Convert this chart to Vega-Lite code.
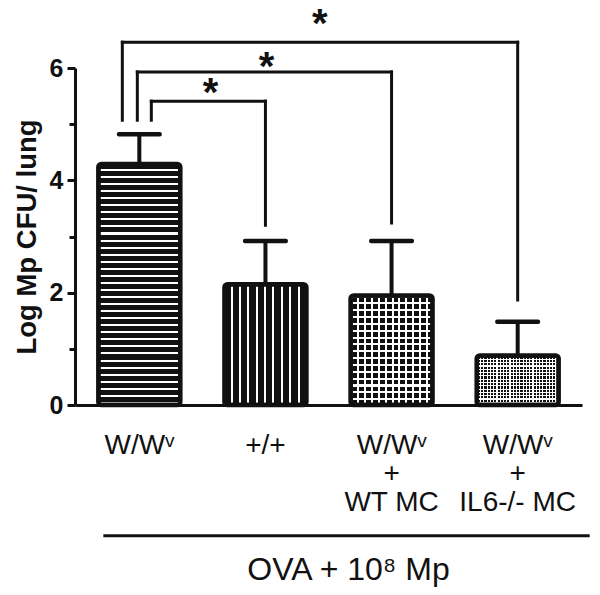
{
"$schema": "https://vega.github.io/schema/vega-lite/v6.json",
"width": 507, "height": 337,
"autosize": {"type": "none"},
"padding": {"left": 75, "top": 68, "right": 18, "bottom": 190},
"background": "white",
"config": {"view": {"stroke": null}, "font": "Liberation Sans", "axis": {"grid": false}},
"datasets": {
 "bars": [
  {"group": "W/Wᵛ", "mean": 4.29, "upper": 4.82},
  {"group": "+/+", "mean": 2.15, "upper": 2.92},
  {"group": "W/Wᵛ|+|WT MC", "mean": 1.95, "upper": 2.92},
  {"group": "W/Wᵛ|+|IL6-/- MC", "mean": 0.88, "upper": 1.48}
 ],
 "comparisons": [
  {"from": "W/Wᵛ", "to": "+/+", "left_y": 5.07, "top_y": 5.41, "right_y": 3.2, "star_y": 5.32, "label": "*"},
  {"from": "W/Wᵛ", "to": "W/Wᵛ|+|WT MC", "left_y": 5.07, "top_y": 5.93, "right_y": 3.24, "star_y": 5.79, "label": "*"},
  {"from": "W/Wᵛ", "to": "W/Wᵛ|+|IL6-/- MC", "left_y": 5.07, "top_y": 6.46, "right_y": 1.87, "star_y": 6.55, "label": "*"}
 ]
},
"layer": [
 {
  "data": {"name": "bars"},
  "transform": [{"filter": "datum.group == 'W/Wᵛ'"}],
  "mark": {"type": "bar", "cornerRadius": 3, "strokeWidth": 0, "fill": {"gradient": "linear", "x1": 0, "y1": 0, "x2": 0, "y2": 1, "stops": [
   {"offset": 0, "color": "#111111"},
   {"offset": 0.0204, "color": "#111111"}, {"offset": 0.0204, "color": "#ffffff"}, {"offset": 0.0288, "color": "#ffffff"}, {"offset": 0.0288, "color": "#111111"},
   {"offset": 0.0497, "color": "#111111"}, {"offset": 0.0497, "color": "#ffffff"}, {"offset": 0.0581, "color": "#ffffff"}, {"offset": 0.0581, "color": "#111111"},
   {"offset": 0.0790, "color": "#111111"}, {"offset": 0.0790, "color": "#ffffff"}, {"offset": 0.0874, "color": "#ffffff"}, {"offset": 0.0874, "color": "#111111"},
   {"offset": 0.1083, "color": "#111111"}, {"offset": 0.1083, "color": "#ffffff"}, {"offset": 0.1167, "color": "#ffffff"}, {"offset": 0.1167, "color": "#111111"},
   {"offset": 0.1376, "color": "#111111"}, {"offset": 0.1376, "color": "#ffffff"}, {"offset": 0.1460, "color": "#ffffff"}, {"offset": 0.1460, "color": "#111111"},
   {"offset": 0.1669, "color": "#111111"}, {"offset": 0.1669, "color": "#ffffff"}, {"offset": 0.1753, "color": "#ffffff"}, {"offset": 0.1753, "color": "#111111"},
   {"offset": 0.1961, "color": "#111111"}, {"offset": 0.1961, "color": "#ffffff"}, {"offset": 0.2045, "color": "#ffffff"}, {"offset": 0.2045, "color": "#111111"},
   {"offset": 0.2254, "color": "#111111"}, {"offset": 0.2254, "color": "#ffffff"}, {"offset": 0.2338, "color": "#ffffff"}, {"offset": 0.2338, "color": "#111111"},
   {"offset": 0.2547, "color": "#111111"}, {"offset": 0.2547, "color": "#ffffff"}, {"offset": 0.2631, "color": "#ffffff"}, {"offset": 0.2631, "color": "#111111"},
   {"offset": 0.2840, "color": "#111111"}, {"offset": 0.2840, "color": "#ffffff"}, {"offset": 0.2924, "color": "#ffffff"}, {"offset": 0.2924, "color": "#111111"},
   {"offset": 0.3133, "color": "#111111"}, {"offset": 0.3133, "color": "#ffffff"}, {"offset": 0.3217, "color": "#ffffff"}, {"offset": 0.3217, "color": "#111111"},
   {"offset": 0.3426, "color": "#111111"}, {"offset": 0.3426, "color": "#ffffff"}, {"offset": 0.3510, "color": "#ffffff"}, {"offset": 0.3510, "color": "#111111"},
   {"offset": 0.3719, "color": "#111111"}, {"offset": 0.3719, "color": "#ffffff"}, {"offset": 0.3803, "color": "#ffffff"}, {"offset": 0.3803, "color": "#111111"},
   {"offset": 0.4012, "color": "#111111"}, {"offset": 0.4012, "color": "#ffffff"}, {"offset": 0.4096, "color": "#ffffff"}, {"offset": 0.4096, "color": "#111111"},
   {"offset": 0.4305, "color": "#111111"}, {"offset": 0.4305, "color": "#ffffff"}, {"offset": 0.4389, "color": "#ffffff"}, {"offset": 0.4389, "color": "#111111"},
   {"offset": 0.4598, "color": "#111111"}, {"offset": 0.4598, "color": "#ffffff"}, {"offset": 0.4682, "color": "#ffffff"}, {"offset": 0.4682, "color": "#111111"},
   {"offset": 0.4890, "color": "#111111"}, {"offset": 0.4890, "color": "#ffffff"}, {"offset": 0.4974, "color": "#ffffff"}, {"offset": 0.4974, "color": "#111111"},
   {"offset": 0.5183, "color": "#111111"}, {"offset": 0.5183, "color": "#ffffff"}, {"offset": 0.5267, "color": "#ffffff"}, {"offset": 0.5267, "color": "#111111"},
   {"offset": 0.5476, "color": "#111111"}, {"offset": 0.5476, "color": "#ffffff"}, {"offset": 0.5560, "color": "#ffffff"}, {"offset": 0.5560, "color": "#111111"},
   {"offset": 0.5769, "color": "#111111"}, {"offset": 0.5769, "color": "#ffffff"}, {"offset": 0.5853, "color": "#ffffff"}, {"offset": 0.5853, "color": "#111111"},
   {"offset": 0.6062, "color": "#111111"}, {"offset": 0.6062, "color": "#ffffff"}, {"offset": 0.6146, "color": "#ffffff"}, {"offset": 0.6146, "color": "#111111"},
   {"offset": 0.6355, "color": "#111111"}, {"offset": 0.6355, "color": "#ffffff"}, {"offset": 0.6439, "color": "#ffffff"}, {"offset": 0.6439, "color": "#111111"},
   {"offset": 0.6648, "color": "#111111"}, {"offset": 0.6648, "color": "#ffffff"}, {"offset": 0.6732, "color": "#ffffff"}, {"offset": 0.6732, "color": "#111111"},
   {"offset": 0.6941, "color": "#111111"}, {"offset": 0.6941, "color": "#ffffff"}, {"offset": 0.7025, "color": "#ffffff"}, {"offset": 0.7025, "color": "#111111"},
   {"offset": 0.7234, "color": "#111111"}, {"offset": 0.7234, "color": "#ffffff"}, {"offset": 0.7318, "color": "#ffffff"}, {"offset": 0.7318, "color": "#111111"},
   {"offset": 0.7527, "color": "#111111"}, {"offset": 0.7527, "color": "#ffffff"}, {"offset": 0.7611, "color": "#ffffff"}, {"offset": 0.7611, "color": "#111111"},
   {"offset": 0.7819, "color": "#111111"}, {"offset": 0.7819, "color": "#ffffff"}, {"offset": 0.7903, "color": "#ffffff"}, {"offset": 0.7903, "color": "#111111"},
   {"offset": 0.8112, "color": "#111111"}, {"offset": 0.8112, "color": "#ffffff"}, {"offset": 0.8196, "color": "#ffffff"}, {"offset": 0.8196, "color": "#111111"},
   {"offset": 0.8405, "color": "#111111"}, {"offset": 0.8405, "color": "#ffffff"}, {"offset": 0.8489, "color": "#ffffff"}, {"offset": 0.8489, "color": "#111111"},
   {"offset": 0.8698, "color": "#111111"}, {"offset": 0.8698, "color": "#ffffff"}, {"offset": 0.8782, "color": "#ffffff"}, {"offset": 0.8782, "color": "#111111"},
   {"offset": 0.8991, "color": "#111111"}, {"offset": 0.8991, "color": "#ffffff"}, {"offset": 0.9075, "color": "#ffffff"}, {"offset": 0.9075, "color": "#111111"},
   {"offset": 0.9284, "color": "#111111"}, {"offset": 0.9284, "color": "#ffffff"}, {"offset": 0.9368, "color": "#ffffff"}, {"offset": 0.9368, "color": "#111111"},
   {"offset": 0.9577, "color": "#111111"}, {"offset": 0.9577, "color": "#ffffff"}, {"offset": 0.9661, "color": "#ffffff"}, {"offset": 0.9661, "color": "#111111"},
   {"offset": 0.9870, "color": "#111111"}, {"offset": 0.9870, "color": "#ffffff"}, {"offset": 0.9954, "color": "#ffffff"}, {"offset": 0.9954, "color": "#111111"},
   {"offset": 1, "color": "#111111"}
  ]}},
  "encoding": {
   "x": {"field": "group", "type": "nominal",
    "scale": {"domain": ["W/Wᵛ", "+/+", "W/Wᵛ|+|WT MC", "W/Wᵛ|+|IL6-/- MC"], "paddingInner": 0.35, "paddingOuter": 0.185},
    "axis": {"title": "OVA + 10⁸ Mp", "labelExpr": "split(datum.label, '|')", "labelAngle": 0, "labelFont": "Liberation Sans", "labelFontSize": 28, "labelColor": "#111111", "labelPadding": 26, "labelLineHeight": 28.5, "labelOverlap": false, "labelLimit": 0, "ticks": false, "tickSize": 0, "domainColor": "#111111", "domainWidth": 3, "titleFont": "Liberation Sans", "titleFontSize": 32, "titleFontWeight": "normal", "titleColor": "#111111", "titlePadding": 38, "titleX": 273}},
   "y": {"field": "mean", "type": "quantitative",
    "scale": {"domain": [0, 6], "nice": false},
    "axis": {"title": "Log Mp CFU/ lung", "values": [0, 1, 2, 3, 4, 5, 6], "format": "d", "labelExpr": "datum.value % 2 == 0 ? datum.label : ''", "domainColor": "#111111", "domainWidth": 3, "tickColor": "#111111", "tickWidth": 3, "tickSize": {"condition": {"test": "datum.value % 2 == 1", "value": 6}, "value": 8}, "labelFont": "Liberation Sans", "labelFontSize": 25, "labelFontWeight": "bold", "labelColor": "#111111", "labelPadding": 4, "titleFont": "Liberation Sans", "titleFontSize": 27.5, "titleFontWeight": "bold", "titleColor": "#111111", "titlePadding": 8}}
  }
 },
 {
  "data": {"name": "bars"},
  "transform": [{"filter": "datum.group == '+/+'"}],
  "mark": {"type": "bar", "cornerRadius": 3, "strokeWidth": 0, "fill": {"gradient": "linear", "x1": 0, "y1": 0, "x2": 1, "y2": 0, "stops": [
   {"offset": 0, "color": "#111111"},
   {"offset": 0.076, "color": "#111111"}, {"offset": 0.076, "color": "#ffffff"}, {"offset": 0.100, "color": "#ffffff"}, {"offset": 0.100, "color": "#111111"},
   {"offset": 0.178, "color": "#111111"}, {"offset": 0.178, "color": "#ffffff"}, {"offset": 0.202, "color": "#ffffff"}, {"offset": 0.202, "color": "#111111"},
   {"offset": 0.280, "color": "#111111"}, {"offset": 0.280, "color": "#ffffff"}, {"offset": 0.304, "color": "#ffffff"}, {"offset": 0.304, "color": "#111111"},
   {"offset": 0.382, "color": "#111111"}, {"offset": 0.382, "color": "#ffffff"}, {"offset": 0.406, "color": "#ffffff"}, {"offset": 0.406, "color": "#111111"},
   {"offset": 0.484, "color": "#111111"}, {"offset": 0.484, "color": "#ffffff"}, {"offset": 0.508, "color": "#ffffff"}, {"offset": 0.508, "color": "#111111"},
   {"offset": 0.586, "color": "#111111"}, {"offset": 0.586, "color": "#ffffff"}, {"offset": 0.610, "color": "#ffffff"}, {"offset": 0.610, "color": "#111111"},
   {"offset": 0.688, "color": "#111111"}, {"offset": 0.688, "color": "#ffffff"}, {"offset": 0.712, "color": "#ffffff"}, {"offset": 0.712, "color": "#111111"},
   {"offset": 0.790, "color": "#111111"}, {"offset": 0.790, "color": "#ffffff"}, {"offset": 0.814, "color": "#ffffff"}, {"offset": 0.814, "color": "#111111"},
   {"offset": 0.892, "color": "#111111"}, {"offset": 0.892, "color": "#ffffff"}, {"offset": 0.916, "color": "#ffffff"}, {"offset": 0.916, "color": "#111111"},
   {"offset": 1, "color": "#111111"}
  ]}},
  "encoding": {"x": {"field": "group", "type": "nominal"}, "y": {"field": "mean", "type": "quantitative"}}
 },
 {
  "data": {"name": "bars"},
  "transform": [{"filter": "datum.group == 'W/Wᵛ|+|WT MC'"}],
  "mark": {"type": "bar", "cornerRadius": 3, "strokeWidth": 0, "fill": {"gradient": "linear", "x1": 0, "y1": 0, "x2": 0, "y2": 1, "stops": [
   {"offset": 0, "color": "#ffffff"}, {"offset": 0.0188, "color": "#ffffff"}, {"offset": 0.0188, "color": "#111111"}, {"offset": 0.0625, "color": "#111111"},
   {"offset": 0.0625, "color": "#ffffff"}, {"offset": 0.0813, "color": "#ffffff"}, {"offset": 0.0813, "color": "#111111"}, {"offset": 0.125, "color": "#111111"},
   {"offset": 0.125, "color": "#ffffff"}, {"offset": 0.1438, "color": "#ffffff"}, {"offset": 0.1438, "color": "#111111"}, {"offset": 0.1875, "color": "#111111"},
   {"offset": 0.1875, "color": "#ffffff"}, {"offset": 0.2063, "color": "#ffffff"}, {"offset": 0.2063, "color": "#111111"}, {"offset": 0.25, "color": "#111111"},
   {"offset": 0.25, "color": "#ffffff"}, {"offset": 0.2688, "color": "#ffffff"}, {"offset": 0.2688, "color": "#111111"}, {"offset": 0.3125, "color": "#111111"},
   {"offset": 0.3125, "color": "#ffffff"}, {"offset": 0.3313, "color": "#ffffff"}, {"offset": 0.3313, "color": "#111111"}, {"offset": 0.375, "color": "#111111"},
   {"offset": 0.375, "color": "#ffffff"}, {"offset": 0.3938, "color": "#ffffff"}, {"offset": 0.3938, "color": "#111111"}, {"offset": 0.4375, "color": "#111111"},
   {"offset": 0.4375, "color": "#ffffff"}, {"offset": 0.4563, "color": "#ffffff"}, {"offset": 0.4563, "color": "#111111"}, {"offset": 0.5, "color": "#111111"},
   {"offset": 0.5, "color": "#ffffff"}, {"offset": 0.5188, "color": "#ffffff"}, {"offset": 0.5188, "color": "#111111"}, {"offset": 0.5625, "color": "#111111"},
   {"offset": 0.5625, "color": "#ffffff"}, {"offset": 0.5813, "color": "#ffffff"}, {"offset": 0.5813, "color": "#111111"}, {"offset": 0.625, "color": "#111111"},
   {"offset": 0.625, "color": "#ffffff"}, {"offset": 0.6438, "color": "#ffffff"}, {"offset": 0.6438, "color": "#111111"}, {"offset": 0.6875, "color": "#111111"},
   {"offset": 0.6875, "color": "#ffffff"}, {"offset": 0.7063, "color": "#ffffff"}, {"offset": 0.7063, "color": "#111111"}, {"offset": 0.75, "color": "#111111"},
   {"offset": 0.75, "color": "#ffffff"}, {"offset": 0.7688, "color": "#ffffff"}, {"offset": 0.7688, "color": "#111111"}, {"offset": 0.8125, "color": "#111111"},
   {"offset": 0.8125, "color": "#ffffff"}, {"offset": 0.8313, "color": "#ffffff"}, {"offset": 0.8313, "color": "#111111"}, {"offset": 0.875, "color": "#111111"},
   {"offset": 0.875, "color": "#ffffff"}, {"offset": 0.8938, "color": "#ffffff"}, {"offset": 0.8938, "color": "#111111"}, {"offset": 0.9375, "color": "#111111"},
   {"offset": 0.9375, "color": "#ffffff"}, {"offset": 0.9563, "color": "#ffffff"}, {"offset": 0.9563, "color": "#111111"}, {"offset": 1, "color": "#111111"}
  ]}},
  "encoding": {"x": {"field": "group", "type": "nominal"}, "y": {"field": "mean", "type": "quantitative"}}
 },
 {
  "data": {"name": "bars"},
  "transform": [{"filter": "datum.group == 'W/Wᵛ|+|WT MC'"}],
  "mark": {"type": "bar", "cornerRadius": 3, "strokeWidth": 0, "fill": {"gradient": "linear", "x1": 0, "y1": 0, "x2": 1, "y2": 0, "stops": [
   {"offset": 0, "color": "#ffffff"}, {"offset": 0.025, "color": "#ffffff"}, {"offset": 0.025, "color": "rgba(255,255,255,0)"}, {"offset": 0.0833, "color": "rgba(255,255,255,0)"},
   {"offset": 0.0833, "color": "#ffffff"}, {"offset": 0.1083, "color": "#ffffff"}, {"offset": 0.1083, "color": "rgba(255,255,255,0)"}, {"offset": 0.1667, "color": "rgba(255,255,255,0)"},
   {"offset": 0.1667, "color": "#ffffff"}, {"offset": 0.1917, "color": "#ffffff"}, {"offset": 0.1917, "color": "rgba(255,255,255,0)"}, {"offset": 0.25, "color": "rgba(255,255,255,0)"},
   {"offset": 0.25, "color": "#ffffff"}, {"offset": 0.275, "color": "#ffffff"}, {"offset": 0.275, "color": "rgba(255,255,255,0)"}, {"offset": 0.3333, "color": "rgba(255,255,255,0)"},
   {"offset": 0.3333, "color": "#ffffff"}, {"offset": 0.3583, "color": "#ffffff"}, {"offset": 0.3583, "color": "rgba(255,255,255,0)"}, {"offset": 0.4167, "color": "rgba(255,255,255,0)"},
   {"offset": 0.4167, "color": "#ffffff"}, {"offset": 0.4417, "color": "#ffffff"}, {"offset": 0.4417, "color": "rgba(255,255,255,0)"}, {"offset": 0.5, "color": "rgba(255,255,255,0)"},
   {"offset": 0.5, "color": "#ffffff"}, {"offset": 0.525, "color": "#ffffff"}, {"offset": 0.525, "color": "rgba(255,255,255,0)"}, {"offset": 0.5833, "color": "rgba(255,255,255,0)"},
   {"offset": 0.5833, "color": "#ffffff"}, {"offset": 0.6083, "color": "#ffffff"}, {"offset": 0.6083, "color": "rgba(255,255,255,0)"}, {"offset": 0.6667, "color": "rgba(255,255,255,0)"},
   {"offset": 0.6667, "color": "#ffffff"}, {"offset": 0.6917, "color": "#ffffff"}, {"offset": 0.6917, "color": "rgba(255,255,255,0)"}, {"offset": 0.75, "color": "rgba(255,255,255,0)"},
   {"offset": 0.75, "color": "#ffffff"}, {"offset": 0.775, "color": "#ffffff"}, {"offset": 0.775, "color": "rgba(255,255,255,0)"}, {"offset": 0.8333, "color": "rgba(255,255,255,0)"},
   {"offset": 0.8333, "color": "#ffffff"}, {"offset": 0.8583, "color": "#ffffff"}, {"offset": 0.8583, "color": "rgba(255,255,255,0)"}, {"offset": 0.9167, "color": "rgba(255,255,255,0)"},
   {"offset": 0.9167, "color": "#ffffff"}, {"offset": 0.9417, "color": "#ffffff"}, {"offset": 0.9417, "color": "rgba(255,255,255,0)"}, {"offset": 1, "color": "rgba(255,255,255,0)"}
  ]}},
  "encoding": {"x": {"field": "group", "type": "nominal"}, "y": {"field": "mean", "type": "quantitative"}}
 },
 {
  "data": {"name": "bars"},
  "transform": [{"filter": "datum.group == 'W/Wᵛ|+|IL6-/- MC'"}],
  "mark": {"type": "bar", "cornerRadius": 3, "strokeWidth": 0, "fill": {"gradient": "linear", "x1": 0, "y1": 0, "x2": 0, "y2": 1, "stops": [
   {"offset": 0, "color": "#ffffff"}, {"offset": 0.0233, "color": "#ffffff"}, {"offset": 0.0233, "color": "#111111"}, {"offset": 0.0667, "color": "#111111"},
   {"offset": 0.0667, "color": "#ffffff"}, {"offset": 0.09, "color": "#ffffff"}, {"offset": 0.09, "color": "#111111"}, {"offset": 0.1333, "color": "#111111"},
   {"offset": 0.1333, "color": "#ffffff"}, {"offset": 0.1567, "color": "#ffffff"}, {"offset": 0.1567, "color": "#111111"}, {"offset": 0.2, "color": "#111111"},
   {"offset": 0.2, "color": "#ffffff"}, {"offset": 0.2233, "color": "#ffffff"}, {"offset": 0.2233, "color": "#111111"}, {"offset": 0.2667, "color": "#111111"},
   {"offset": 0.2667, "color": "#ffffff"}, {"offset": 0.29, "color": "#ffffff"}, {"offset": 0.29, "color": "#111111"}, {"offset": 0.3333, "color": "#111111"},
   {"offset": 0.3333, "color": "#ffffff"}, {"offset": 0.3567, "color": "#ffffff"}, {"offset": 0.3567, "color": "#111111"}, {"offset": 0.4, "color": "#111111"},
   {"offset": 0.4, "color": "#ffffff"}, {"offset": 0.4233, "color": "#ffffff"}, {"offset": 0.4233, "color": "#111111"}, {"offset": 0.4667, "color": "#111111"},
   {"offset": 0.4667, "color": "#ffffff"}, {"offset": 0.49, "color": "#ffffff"}, {"offset": 0.49, "color": "#111111"}, {"offset": 0.5333, "color": "#111111"},
   {"offset": 0.5333, "color": "#ffffff"}, {"offset": 0.5567, "color": "#ffffff"}, {"offset": 0.5567, "color": "#111111"}, {"offset": 0.6, "color": "#111111"},
   {"offset": 0.6, "color": "#ffffff"}, {"offset": 0.6233, "color": "#ffffff"}, {"offset": 0.6233, "color": "#111111"}, {"offset": 0.6667, "color": "#111111"},
   {"offset": 0.6667, "color": "#ffffff"}, {"offset": 0.69, "color": "#ffffff"}, {"offset": 0.69, "color": "#111111"}, {"offset": 0.7333, "color": "#111111"},
   {"offset": 0.7333, "color": "#ffffff"}, {"offset": 0.7567, "color": "#ffffff"}, {"offset": 0.7567, "color": "#111111"}, {"offset": 0.8, "color": "#111111"},
   {"offset": 0.8, "color": "#ffffff"}, {"offset": 0.8233, "color": "#ffffff"}, {"offset": 0.8233, "color": "#111111"}, {"offset": 0.8667, "color": "#111111"},
   {"offset": 0.8667, "color": "#ffffff"}, {"offset": 0.89, "color": "#ffffff"}, {"offset": 0.89, "color": "#111111"}, {"offset": 0.9333, "color": "#111111"},
   {"offset": 0.9333, "color": "#ffffff"}, {"offset": 0.9567, "color": "#ffffff"}, {"offset": 0.9567, "color": "#111111"}, {"offset": 1, "color": "#111111"}
  ]}},
  "encoding": {"x": {"field": "group", "type": "nominal"}, "y": {"field": "mean", "type": "quantitative"}}
 },
 {
  "data": {"name": "bars"},
  "transform": [{"filter": "datum.group == 'W/Wᵛ|+|IL6-/- MC'"}],
  "mark": {"type": "bar", "cornerRadius": 3, "strokeWidth": 0, "fill": {"gradient": "linear", "x1": 0, "y1": 0, "x2": 1, "y2": 0, "stops": [
   {"offset": 0, "color": "#ffffff"}, {"offset": 0.014, "color": "#ffffff"}, {"offset": 0.014, "color": "rgba(255,255,255,0)"}, {"offset": 0.04, "color": "rgba(255,255,255,0)"},
   {"offset": 0.04, "color": "#ffffff"}, {"offset": 0.054, "color": "#ffffff"}, {"offset": 0.054, "color": "rgba(255,255,255,0)"}, {"offset": 0.08, "color": "rgba(255,255,255,0)"},
   {"offset": 0.08, "color": "#ffffff"}, {"offset": 0.094, "color": "#ffffff"}, {"offset": 0.094, "color": "rgba(255,255,255,0)"}, {"offset": 0.12, "color": "rgba(255,255,255,0)"},
   {"offset": 0.12, "color": "#ffffff"}, {"offset": 0.134, "color": "#ffffff"}, {"offset": 0.134, "color": "rgba(255,255,255,0)"}, {"offset": 0.16, "color": "rgba(255,255,255,0)"},
   {"offset": 0.16, "color": "#ffffff"}, {"offset": 0.174, "color": "#ffffff"}, {"offset": 0.174, "color": "rgba(255,255,255,0)"}, {"offset": 0.2, "color": "rgba(255,255,255,0)"},
   {"offset": 0.2, "color": "#ffffff"}, {"offset": 0.214, "color": "#ffffff"}, {"offset": 0.214, "color": "rgba(255,255,255,0)"}, {"offset": 0.24, "color": "rgba(255,255,255,0)"},
   {"offset": 0.24, "color": "#ffffff"}, {"offset": 0.254, "color": "#ffffff"}, {"offset": 0.254, "color": "rgba(255,255,255,0)"}, {"offset": 0.28, "color": "rgba(255,255,255,0)"},
   {"offset": 0.28, "color": "#ffffff"}, {"offset": 0.294, "color": "#ffffff"}, {"offset": 0.294, "color": "rgba(255,255,255,0)"}, {"offset": 0.32, "color": "rgba(255,255,255,0)"},
   {"offset": 0.32, "color": "#ffffff"}, {"offset": 0.334, "color": "#ffffff"}, {"offset": 0.334, "color": "rgba(255,255,255,0)"}, {"offset": 0.36, "color": "rgba(255,255,255,0)"},
   {"offset": 0.36, "color": "#ffffff"}, {"offset": 0.374, "color": "#ffffff"}, {"offset": 0.374, "color": "rgba(255,255,255,0)"}, {"offset": 0.4, "color": "rgba(255,255,255,0)"},
   {"offset": 0.4, "color": "#ffffff"}, {"offset": 0.414, "color": "#ffffff"}, {"offset": 0.414, "color": "rgba(255,255,255,0)"}, {"offset": 0.44, "color": "rgba(255,255,255,0)"},
   {"offset": 0.44, "color": "#ffffff"}, {"offset": 0.454, "color": "#ffffff"}, {"offset": 0.454, "color": "rgba(255,255,255,0)"}, {"offset": 0.48, "color": "rgba(255,255,255,0)"},
   {"offset": 0.48, "color": "#ffffff"}, {"offset": 0.494, "color": "#ffffff"}, {"offset": 0.494, "color": "rgba(255,255,255,0)"}, {"offset": 0.52, "color": "rgba(255,255,255,0)"},
   {"offset": 0.52, "color": "#ffffff"}, {"offset": 0.534, "color": "#ffffff"}, {"offset": 0.534, "color": "rgba(255,255,255,0)"}, {"offset": 0.56, "color": "rgba(255,255,255,0)"},
   {"offset": 0.56, "color": "#ffffff"}, {"offset": 0.574, "color": "#ffffff"}, {"offset": 0.574, "color": "rgba(255,255,255,0)"}, {"offset": 0.6, "color": "rgba(255,255,255,0)"},
   {"offset": 0.6, "color": "#ffffff"}, {"offset": 0.614, "color": "#ffffff"}, {"offset": 0.614, "color": "rgba(255,255,255,0)"}, {"offset": 0.64, "color": "rgba(255,255,255,0)"},
   {"offset": 0.64, "color": "#ffffff"}, {"offset": 0.654, "color": "#ffffff"}, {"offset": 0.654, "color": "rgba(255,255,255,0)"}, {"offset": 0.68, "color": "rgba(255,255,255,0)"},
   {"offset": 0.68, "color": "#ffffff"}, {"offset": 0.694, "color": "#ffffff"}, {"offset": 0.694, "color": "rgba(255,255,255,0)"}, {"offset": 0.72, "color": "rgba(255,255,255,0)"},
   {"offset": 0.72, "color": "#ffffff"}, {"offset": 0.734, "color": "#ffffff"}, {"offset": 0.734, "color": "rgba(255,255,255,0)"}, {"offset": 0.76, "color": "rgba(255,255,255,0)"},
   {"offset": 0.76, "color": "#ffffff"}, {"offset": 0.774, "color": "#ffffff"}, {"offset": 0.774, "color": "rgba(255,255,255,0)"}, {"offset": 0.8, "color": "rgba(255,255,255,0)"},
   {"offset": 0.8, "color": "#ffffff"}, {"offset": 0.814, "color": "#ffffff"}, {"offset": 0.814, "color": "rgba(255,255,255,0)"}, {"offset": 0.84, "color": "rgba(255,255,255,0)"},
   {"offset": 0.84, "color": "#ffffff"}, {"offset": 0.854, "color": "#ffffff"}, {"offset": 0.854, "color": "rgba(255,255,255,0)"}, {"offset": 0.88, "color": "rgba(255,255,255,0)"},
   {"offset": 0.88, "color": "#ffffff"}, {"offset": 0.894, "color": "#ffffff"}, {"offset": 0.894, "color": "rgba(255,255,255,0)"}, {"offset": 0.92, "color": "rgba(255,255,255,0)"},
   {"offset": 0.92, "color": "#ffffff"}, {"offset": 0.934, "color": "#ffffff"}, {"offset": 0.934, "color": "rgba(255,255,255,0)"}, {"offset": 0.96, "color": "rgba(255,255,255,0)"},
   {"offset": 0.96, "color": "#ffffff"}, {"offset": 0.974, "color": "#ffffff"}, {"offset": 0.974, "color": "rgba(255,255,255,0)"}, {"offset": 1, "color": "rgba(255,255,255,0)"}
  ]}},
  "encoding": {"x": {"field": "group", "type": "nominal"}, "y": {"field": "mean", "type": "quantitative"}}
 },
 {
  "data": {"name": "bars"},
  "mark": {"type": "bar", "cornerRadius": 3, "filled": false, "stroke": "#111111", "strokeWidth": 4.5},
  "encoding": {"x": {"field": "group", "type": "nominal"}, "y": {"field": "mean", "type": "quantitative"}}
 },
 {
  "data": {"name": "bars"},
  "mark": {"type": "rule", "color": "#111111", "strokeWidth": 4},
  "encoding": {"x": {"field": "group", "type": "nominal"}, "y": {"field": "mean", "type": "quantitative"}, "y2": {"field": "upper"}}
 },
 {
  "data": {"name": "bars"},
  "mark": {"type": "tick", "color": "#111111", "size": 45, "thickness": 4.5, "cornerRadius": 2, "opacity": 1},
  "encoding": {"x": {"field": "group", "type": "nominal"}, "y": {"field": "upper", "type": "quantitative"}}
 },
 {
  "data": {"name": "comparisons"},
  "transform": [{"filter": "datum.to == '+/+'"}],
  "mark": {"type": "rule", "color": "#111111", "strokeWidth": 3, "strokeCap": "square", "xOffset": 12},
  "encoding": {"x": {"field": "from", "type": "nominal"}, "y": {"field": "left_y", "type": "quantitative"}, "y2": {"field": "top_y"}}
 },
 {
  "data": {"name": "comparisons"},
  "transform": [{"filter": "datum.to == 'W/Wᵛ|+|WT MC'"}],
  "mark": {"type": "rule", "color": "#111111", "strokeWidth": 3, "strokeCap": "square", "xOffset": -2},
  "encoding": {"x": {"field": "from", "type": "nominal"}, "y": {"field": "left_y", "type": "quantitative"}, "y2": {"field": "top_y"}}
 },
 {
  "data": {"name": "comparisons"},
  "transform": [{"filter": "datum.to == 'W/Wᵛ|+|IL6-/- MC'"}],
  "mark": {"type": "rule", "color": "#111111", "strokeWidth": 3, "strokeCap": "square", "xOffset": -17},
  "encoding": {"x": {"field": "from", "type": "nominal"}, "y": {"field": "left_y", "type": "quantitative"}, "y2": {"field": "top_y"}}
 },
 {
  "data": {"name": "comparisons"},
  "transform": [{"filter": "datum.to == '+/+'"}],
  "mark": {"type": "rule", "color": "#111111", "strokeWidth": 3, "strokeCap": "square", "xOffset": 12},
  "encoding": {"x": {"field": "from", "type": "nominal"}, "x2": {"field": "to"}, "y": {"field": "top_y", "type": "quantitative"}}
 },
 {
  "data": {"name": "comparisons"},
  "transform": [{"filter": "datum.to == 'W/Wᵛ|+|WT MC'"}],
  "mark": {"type": "rule", "color": "#111111", "strokeWidth": 3, "strokeCap": "square", "xOffset": -2},
  "encoding": {"x": {"field": "from", "type": "nominal"}, "x2": {"field": "to"}, "y": {"field": "top_y", "type": "quantitative"}}
 },
 {
  "data": {"name": "comparisons"},
  "transform": [{"filter": "datum.to == 'W/Wᵛ|+|IL6-/- MC'"}],
  "mark": {"type": "rule", "color": "#111111", "strokeWidth": 3, "strokeCap": "square", "xOffset": -17},
  "encoding": {"x": {"field": "from", "type": "nominal"}, "x2": {"field": "to"}, "y": {"field": "top_y", "type": "quantitative"}}
 },
 {
  "data": {"name": "comparisons"},
  "mark": {"type": "rule", "color": "#111111", "strokeWidth": 3, "strokeCap": "square"},
  "encoding": {"x": {"field": "to", "type": "nominal"}, "y": {"field": "top_y", "type": "quantitative"}, "y2": {"field": "right_y"}}
 },
 {
  "data": {"name": "comparisons"},
  "transform": [{"filter": "datum.to == '+/+'"}],
  "mark": {"type": "text", "font": "Liberation Sans", "fontSize": 40, "fontWeight": "bold", "color": "#111111", "align": "center", "baseline": "alphabetic", "xOffset": -55},
  "encoding": {"x": {"field": "to", "type": "nominal"}, "y": {"field": "star_y", "type": "quantitative"}, "text": {"field": "label"}}
 },
 {
  "data": {"name": "comparisons"},
  "transform": [{"filter": "datum.to == 'W/Wᵛ|+|WT MC'"}],
  "mark": {"type": "text", "font": "Liberation Sans", "fontSize": 40, "fontWeight": "bold", "color": "#111111", "align": "center", "baseline": "alphabetic", "xOffset": -125},
  "encoding": {"x": {"field": "to", "type": "nominal"}, "y": {"field": "star_y", "type": "quantitative"}, "text": {"field": "label"}}
 },
 {
  "data": {"name": "comparisons"},
  "transform": [{"filter": "datum.to == 'W/Wᵛ|+|IL6-/- MC'"}],
  "mark": {"type": "text", "font": "Liberation Sans", "fontSize": 40, "fontWeight": "bold", "color": "#111111", "align": "center", "baseline": "alphabetic", "xOffset": -198},
  "encoding": {"x": {"field": "to", "type": "nominal"}, "y": {"field": "star_y", "type": "quantitative"}, "text": {"field": "label"}}
 },
 {
  "data": {"values": [{}]},
  "mark": {"type": "rule", "color": "#111111", "strokeWidth": 3, "xOffset": -36, "x2Offset": 72},
  "encoding": {"x": {"datum": "W/Wᵛ", "type": "nominal"}, "x2": {"datum": "W/Wᵛ|+|IL6-/- MC"}, "y": {"datum": -2.33, "type": "quantitative"}}
 }
]
}
